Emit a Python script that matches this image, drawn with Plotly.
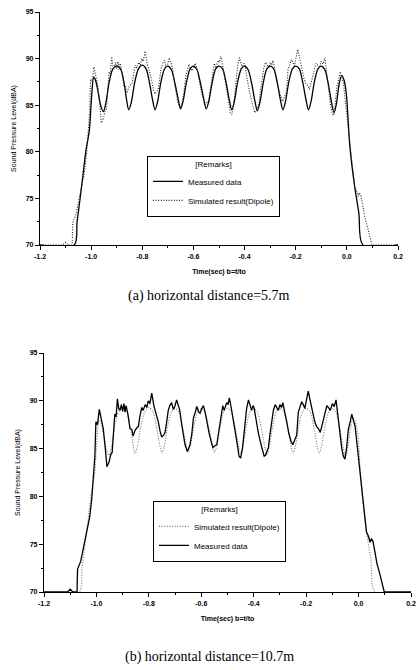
import plotly.graph_objects as go

# ---------------- data ----------------
# smooth curve (solid in (a), dotted in (b))
smooth_t = [-1.2, -1.066, -1.055, -1.044, -1.032, -1.02, -1.007, -0.999, -0.99, -0.982, -0.972, -0.962,
            -0.952, -0.942, -0.93, -0.915, -0.9, -0.885, -0.872, -0.862, -0.853, -0.843, -0.83, -0.815,
            -0.8, -0.785, -0.771, -0.76, -0.75, -0.74, -0.727, -0.713, -0.7, -0.686, -0.672, -0.66,
            -0.65, -0.64, -0.627, -0.613, -0.6, -0.586, -0.572, -0.56, -0.55, -0.54, -0.527, -0.513,
            -0.5, -0.486, -0.472, -0.46, -0.45, -0.44, -0.427, -0.413, -0.4, -0.386, -0.372, -0.36,
            -0.35, -0.34, -0.327, -0.313, -0.3, -0.286, -0.272, -0.26, -0.25, -0.24, -0.227, -0.213,
            -0.2, -0.186, -0.172, -0.16, -0.15, -0.14, -0.127, -0.113, -0.1, -0.086, -0.072, -0.06,
            -0.05, -0.04, -0.03, -0.02, -0.01, -0.002, 0.012, 0.031, 0.047, 0.063, 0.2]
smooth_db = [70, 70, 72.5, 74.8, 77.5, 80.2, 82.3, 85.6, 88.0, 87.6, 86.3, 84.9,
             84.3, 85.3, 87.4, 88.9, 89.2, 88.9, 87.5, 85.7, 84.5, 85.3, 87.4, 88.9,
             89.3, 88.9, 87.3, 85.6, 84.5, 85.4, 87.5, 88.9, 89.2, 88.8, 87.3, 85.7,
             84.6, 85.5, 87.5, 88.9, 89.2, 88.8, 87.3, 85.7, 84.6, 85.4, 87.4, 88.9,
             89.2, 88.9, 87.4, 85.6, 84.5, 85.4, 87.5, 88.9, 89.2, 88.8, 87.3, 85.5,
             84.4, 85.3, 87.4, 88.9, 89.2, 88.9, 87.4, 85.6, 84.5, 85.4, 87.5, 88.9,
             89.2, 88.9, 87.4, 85.6, 84.5, 85.4, 87.5, 88.9, 89.2, 88.8, 87.2, 85.3,
             84.2, 85.3, 87.3, 88.2, 87.6, 86.2, 80.5, 76.2, 73.4, 70, 70]

# noisy curve (dotted in (a), solid in (b))
noisy_t = [-1.2, -1.11, -1.1, -1.09, -1.074, -1.072, -1.06, -1.048, -1.036, -1.026, -1.018, -1.01,
           -1.006, -1.002, -0.996, -0.989, -0.982, -0.974, -0.966, -0.96, -0.952, -0.945, -0.94, -0.934,
           -0.93, -0.925, -0.92, -0.915, -0.91, -0.905, -0.9, -0.895, -0.891, -0.887, -0.88, -0.872,
           -0.865, -0.86, -0.853, -0.845, -0.84, -0.834, -0.827, -0.822, -0.814, -0.808, -0.802, -0.796,
           -0.789, -0.781, -0.772, -0.764, -0.757, -0.751, -0.744, -0.738, -0.732, -0.726, -0.72, -0.713,
           -0.707, -0.701, -0.694, -0.688, -0.682, -0.675, -0.668, -0.662, -0.653, -0.648, -0.643, -0.636,
           -0.63, -0.623, -0.617, -0.611, -0.605, -0.598, -0.592, -0.586, -0.579, -0.57, -0.563, -0.556,
           -0.548, -0.541, -0.535, -0.528, -0.523, -0.518, -0.513, -0.509, -0.503, -0.498, -0.493, -0.486,
           -0.478, -0.47, -0.463, -0.456, -0.45, -0.443, -0.437, -0.431, -0.427, -0.42, -0.414, -0.408,
           -0.403, -0.399, -0.392, -0.382, -0.37, -0.36, -0.355, -0.349, -0.344, -0.338, -0.331, -0.325,
           -0.318, -0.312, -0.306, -0.3, -0.294, -0.289, -0.282, -0.274, -0.266, -0.258, -0.251, -0.244,
           -0.236, -0.23, -0.224, -0.217, -0.211, -0.205, -0.198, -0.192, -0.186, -0.179, -0.173, -0.167,
           -0.16, -0.153, -0.146, -0.14, -0.134, -0.127, -0.121, -0.115, -0.108, -0.1, -0.093, -0.086,
           -0.081, -0.077, -0.07, -0.064, -0.058, -0.052, -0.046, -0.039, -0.032, -0.026, -0.02, -0.013,
           -0.006, -0.001, 0.008, 0.017, 0.025, 0.03, 0.038, 0.044, 0.049, 0.055, 0.061, 0.07,
           0.08, 0.09, 0.098, 0.2]
noisy_db = [70, 70, 70.3, 70, 70, 72.4, 73.2, 74.8, 76.5, 77.8, 79.7, 82.5,
            84.2, 87.8, 87.5, 89.1, 88.2, 87.1, 85.0, 83.1, 83.6, 84.4, 84.6, 87.0,
            88.6, 88.3, 90.2, 89.2, 89.0, 89.6, 88.9, 89.7, 88.8, 89.5, 88.6, 87.1,
            87.0, 86.3, 86.9, 87.2, 87.3, 88.4, 89.3, 89.0, 89.6, 89.3, 90.0, 89.7,
            90.8, 89.5, 88.6, 87.8, 86.8, 86.2, 86.4, 86.7, 87.8, 89.0, 89.5, 89.8,
            89.1, 89.4, 90.1, 89.6, 89.0, 87.6, 86.3, 85.4, 84.7, 85.0, 85.4, 86.6,
            88.2, 88.8, 89.4, 88.9, 88.7, 89.2, 89.5, 88.9, 87.8, 86.6, 85.8, 85.1,
            85.3, 85.4, 86.5, 87.8, 88.6, 89.5, 89.0, 89.3, 89.8, 89.6, 90.3, 89.3,
            88.1, 86.8, 85.5, 84.2, 84.0, 85.0, 86.4, 88.0, 89.2, 90.1, 89.4, 89.0,
            89.5, 89.3, 88.2, 86.6, 85.2, 84.2, 84.3, 84.8, 85.1, 86.5, 88.2, 89.0,
            89.6, 89.2, 89.0, 89.6, 89.3, 89.8, 89.0, 87.8, 86.6, 85.8, 85.4, 85.9,
            86.4, 88.8, 89.4, 89.9, 89.6, 89.2, 90.2, 91.0, 90.2, 89.2, 88.6, 87.8,
            87.3, 87.1, 86.7, 87.4, 88.3, 89.0, 89.5, 89.3, 89.0, 89.7, 89.4, 90.1,
            89.0, 87.8, 86.2, 85.0, 84.2, 83.9, 85.0, 87.0, 87.8, 88.6, 88.0, 87.3,
            85.5, 84.2, 82.0, 80.0, 77.5, 76.3, 75.8, 75.2, 75.6, 75.3, 74.4, 73.0,
            72.0, 71.0, 70, 70]

x_tickvals = [-1.2, -1.0, -0.8, -0.6, -0.4, -0.2, 0.0, 0.2]
x_ticktext = ["-1.2", "-1.0", "-0.8", "-0.6", "-0.4", "-0.2", "0.0", "0.2"]
y_tickvals = [70, 75, 80, 85, 90, 95]
y_ticktext = ["70", "75", "80", "85", "90", "95"]

name_meas = "Measured data"
name_sim = "Simulated result(Dipole)"
caption_a = "(a) horizontal distance=5.7m"
caption_b = "(b) horizontal distance=10.7m"
x_title = "Time(sec) b=t/to"
y_title = "Sound Pressure Level(dBA)"

# ---------------- figure ----------------
W, H = 419, 670
DOT = "1px,1.6px"
fig = go.Figure()

# panel (a)
fig.add_trace(go.Scatter(x=smooth_t, y=smooth_db, mode="lines", name=name_meas,
                         line=dict(color="black", width=1.3, shape="spline", smoothing=0.8),
                         xaxis="x", yaxis="y", legend="legend"))
fig.add_trace(go.Scatter(x=noisy_t, y=noisy_db, mode="lines", name=name_sim,
                         line=dict(color="#222", width=1.1, dash=DOT),
                         xaxis="x", yaxis="y", legend="legend"))
# panel (b)
fig.add_trace(go.Scatter(x=smooth_t, y=smooth_db, mode="lines", name=name_sim,
                         line=dict(color="#777", width=1.1, dash=DOT, shape="spline", smoothing=0.8),
                         xaxis="x2", yaxis="y2", legend="legend2"))
fig.add_trace(go.Scatter(x=noisy_t, y=noisy_db, mode="lines", name=name_meas,
                         line=dict(color="black", width=1.3),
                         xaxis="x2", yaxis="y2", legend="legend2"))

tickfont = dict(family="Liberation Sans, Arial", size=7, color="black", weight="bold")

def xaxis(domain, anchor):
    return dict(domain=domain, anchor=anchor, range=[-1.2, 0.2], automargin=False,
                tickvals=x_tickvals, ticktext=x_ticktext, tickfont=tickfont,
                ticks="outside", ticklen=4, tickwidth=1, tickcolor="black",
                minor=dict(dtick=0.1, tick0=0, ticks="outside", ticklen=2, tickcolor="black"),
                showline=True, linecolor="black", linewidth=1.2, showgrid=False, zeroline=False,
                title=dict(text=x_title, font=tickfont, standoff=10))

def yaxis(domain, anchor):
    return dict(domain=domain, anchor=anchor, range=[70, 95], automargin=False,
                tickvals=y_tickvals, ticktext=y_ticktext, tickfont=tickfont,
                ticks="outside", ticklen=4, tickwidth=1, tickcolor="black",
                minor=dict(dtick=2.5, tick0=70, ticks="outside", ticklen=2, tickcolor="black"),
                showline=True, linecolor="black", linewidth=1.2, showgrid=False, zeroline=False,
                title=dict(text=y_title, font=dict(family="Liberation Sans, Arial", size=7, color="black"),
                           standoff=8))

legfont = dict(family="Liberation Sans, Arial", size=8, color="black")

def legend(x, y):
    return dict(x=x, y=y, xanchor="left", yanchor="middle", xref="paper", yref="paper",
                bordercolor="black", borderwidth=1, bgcolor="white", font=legfont,
                title=dict(text="[Remarks]", font=legfont, side="top center"),
                tracegroupgap=0, itemwidth=30)

fig.update_layout(
    width=W, height=H, margin=dict(l=0, r=0, t=0, b=0, autoexpand=False),
    paper_bgcolor="white", plot_bgcolor="white", showlegend=True,
    xaxis=xaxis([40 / W, 398 / W], "y"),
    yaxis=yaxis([1 - 245 / H, 1 - 12 / H], "x"),
    xaxis2=xaxis([44 / W, 411 / W], "y2"),
    yaxis2=yaxis([1 - 592 / H, 1 - 353 / H], "x2"),
    legend=legend(147 / W, 1 - 186 / H),
    legend2=legend(153 / W, 1 - 531 / H),
    annotations=[
        dict(text=caption_a, x=209 / W, y=1 - 296 / H, xref="paper", yref="paper",
             showarrow=False, xanchor="center", yanchor="middle",
             font=dict(family="Liberation Serif, Times New Roman", size=14, color="black")),
        dict(text=caption_b, x=209 / W, y=1 - 657 / H, xref="paper", yref="paper",
             showarrow=False, xanchor="center", yanchor="middle",
             font=dict(family="Liberation Serif, Times New Roman", size=14, color="black")),
    ],
)

fig.write_html("out.html", config={"displayModeBar": False},
               post_script="document.body.style.margin='0';document.body.style.overflow='hidden';")
